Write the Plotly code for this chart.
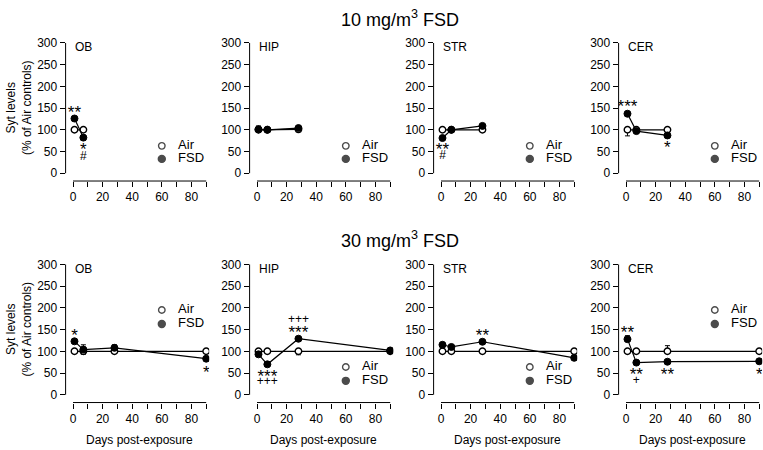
import plotly.graph_objects as go

# ---------------- data ----------------
regions = ["OB", "HIP", "STR", "CER"]
dose_titles = ["10 mg/m<sup>3</sup> FSD", "30 mg/m<sup>3</sup> FSD"]

days_10_ob = [1, 7]
days_10 = [1, 7, 28]
days_30 = [1, 7, 28, 90]

air_10_ob = [100, 100]
fsd_10_ob = [126, 82]
air_10_hip = [100, 100, 101]
fsd_10_hip = [101, 100, 104]
air_10_str = [100, 100, 100]
fsd_10_str = [81, 100, 109]
air_10_cer = [100, 100, 100]
fsd_10_cer = [137, 97, 87]

air_30_ob = [100, 100, 100, 100]
fsd_30_ob = [123, 104, 108, 83]
air_30_hip = [100, 100, 100, 100]
fsd_30_hip = [93, 70, 129, 102]
air_30_str = [100, 100, 100, 100]
fsd_30_str = [115, 110, 122, 85]
air_30_cer = [100, 100, 100, 100]
fsd_30_cer = [128, 74, 76, 77]

# SEM values
air_10_ob_sem = [3, 3]
fsd_10_ob_sem = [4, 6]
air_10_hip_sem = [3, 3, 3]
fsd_10_hip_sem = [8, 4, 4]
air_10_str_sem = [3, 3, 3]
fsd_10_str_sem = [4, 3, 4]
air_10_cer_sem = [14, 4, 3]
fsd_10_cer_sem = [5, 4, 4]

air_30_ob_sem = [3, 7, 3, 3]
fsd_30_ob_sem = [4, 11, 7, 3]
air_30_hip_sem = [3, 3, 8, 3]
fsd_30_hip_sem = [4, 4, 4, 3]
air_30_str_sem = [3, 3, 3, 3]
fsd_30_str_sem = [4, 4, 4, 3]
air_30_cer_sem = [4, 6, 13, 3]
fsd_30_cer_sem = [8, 4, 4, 3]

# significance marks (panel index 0-7, day, level, label)
sig_panel = [0, 0, 0, 2, 2, 3, 3, 4, 4, 5, 5, 5, 5, 6, 7, 7, 7, 7, 7]
sig_x = [1, 7, 7, 1, 1, 1, 28, 1, 90, 7, 7, 28, 28, 28, 1, 7, 7, 28, 90]
sig_y = [146, 60, 38, 60, 39, 159, 66, 142, 57, 49, 29, 150, 172, 143, 150, 53, 32, 53, 53]
sig_text = ["**", "*", "#", "**", "#", "***", "*", "*", "*", "***", "+++", "***", "+++",
            "**", "**", "**", "+", "**", "*"]

# legend placement (per panel)
legend_labels = ["Air", "FSD"]
legend_x = 60
legend_air_y = [63, 63, 63, 63, 195, 64, 64, 195]
legend_fsd_y = [33, 33, 33, 33, 163, 32, 32, 163]

y_tick_vals = [0, 50, 100, 150, 200, 250, 300]
x_tick_vals = [0, 10, 20, 30, 40, 50, 60, 70, 80, 90]
x_tick_text = ["0", "", "20", "", "40", "", "60", "", "80", ""]

panels = [
    (days_10_ob, air_10_ob, fsd_10_ob, air_10_ob_sem, fsd_10_ob_sem),
    (days_10, air_10_hip, fsd_10_hip, air_10_hip_sem, fsd_10_hip_sem),
    (days_10, air_10_str, fsd_10_str, air_10_str_sem, fsd_10_str_sem),
    (days_10, air_10_cer, fsd_10_cer, air_10_cer_sem, fsd_10_cer_sem),
    (days_30, air_30_ob, fsd_30_ob, air_30_ob_sem, fsd_30_ob_sem),
    (days_30, air_30_hip, fsd_30_hip, air_30_hip_sem, fsd_30_hip_sem),
    (days_30, air_30_str, fsd_30_str, air_30_str_sem, fsd_30_str_sem),
    (days_30, air_30_cer, fsd_30_cer, air_30_cer_sem, fsd_30_cer_sem),
]

# ---------------- layout geometry ----------------
W, H = 763, 450
FONT = "Liberation Sans, Arial, Helvetica, sans-serif"
x_range = [-5, 92]
y_range = [-18, 305]
px_per_x = 1.48
px_per_y = 0.439
x_zero_px = [73, 257, 441, 626]
row_bottom_px = [178, 402]
ASTERISK_DROP = 9  # asterisk glyph sits high in its text box

fig = go.Figure()
layout_axes = {}
shapes = []
annotations = []

for i, (days, air, fsd, air_sem, fsd_sem) in enumerate(panels):
    row, col = divmod(i, 4)
    xn = "" if i == 0 else str(i + 1)
    xa, ya = "x" + xn, "y" + xn
    left = x_zero_px[col] + x_range[0] * px_per_x
    right = x_zero_px[col] + x_range[1] * px_per_x
    bottom = row_bottom_px[row]
    top = bottom - (y_range[1] - y_range[0]) * px_per_y
    layout_axes["xaxis" + xn] = dict(
        domain=[left / W, min(right / W, 1.0)], range=x_range, anchor=ya,
        showline=False, showgrid=False, zeroline=False,
        tickmode="array", tickvals=x_tick_vals, ticktext=x_tick_text,
        ticks="outside", ticklen=5, tickwidth=1, tickcolor="black",
        tickfont=dict(family=FONT, size=12, color="black"),
    )
    layout_axes["yaxis" + xn] = dict(
        domain=[1 - bottom / H, 1 - top / H], range=y_range, anchor=xa,
        showline=False, showgrid=False, zeroline=False,
        tickmode="array", tickvals=y_tick_vals,
        ticks="outside", ticklen=5, tickwidth=1, tickcolor="black",
        tickfont=dict(family=FONT, size=12, color="black"),
    )
    # detached axis lines
    shapes.append(dict(type="line", xref=xa + " domain", yref=ya, x0=0, x1=0,
                       y0=y_tick_vals[0], y1=y_tick_vals[-1], line=dict(color="black", width=1)))
    shapes.append(dict(type="line", xref=xa, yref=ya + " domain", x0=x_tick_vals[0],
                       x1=x_tick_vals[-1], y0=0, y1=0, line=dict(color="black", width=1)))

    # one-sided error bars pointing away from the other group
    air_up = [s if a > f else 0 for a, f, s in zip(air, fsd, air_sem)]
    air_dn = [s if a <= f else 0 for a, f, s in zip(air, fsd, air_sem)]
    fsd_up = [s if f >= a else 0 for a, f, s in zip(air, fsd, fsd_sem)]
    fsd_dn = [s if f < a else 0 for a, f, s in zip(air, fsd, fsd_sem)]

    fig.add_trace(go.Scatter(
        x=days, y=air, xaxis=xa, yaxis=ya, mode="lines+markers", showlegend=False,
        line=dict(color="black", width=1.2),
        marker=dict(symbol="circle", size=6.5, color="white", line=dict(color="black", width=1.4)),
        error_y=dict(type="data", symmetric=False, array=air_up, arrayminus=air_dn,
                     color="black", thickness=1, width=2.5),
    ))
    fig.add_trace(go.Scatter(
        x=days, y=fsd, xaxis=xa, yaxis=ya, mode="lines+markers", showlegend=False,
        line=dict(color="black", width=1.2),
        marker=dict(symbol="circle", size=7, color="black", line=dict(color="black", width=1)),
        error_y=dict(type="data", symmetric=False, array=fsd_up, arrayminus=fsd_dn,
                     color="black", thickness=1, width=2.5),
    ))
    # legend (drawn inside panel)
    fig.add_trace(go.Scatter(
        x=[legend_x, legend_x], y=[legend_air_y[i], legend_fsd_y[i]], xaxis=xa, yaxis=ya,
        mode="markers", showlegend=False, hoverinfo="skip",
        marker=dict(symbol="circle", size=[6.5, 7], color=["white", "black"],
                    line=dict(color="black", width=1.4)),
    ))
    fig.add_trace(go.Scatter(
        x=[legend_x + 11, legend_x + 11], y=[legend_air_y[i], legend_fsd_y[i]],
        xaxis=xa, yaxis=ya, mode="text", text=legend_labels, textposition="middle right",
        textfont=dict(family=FONT, size=13, color="black"), showlegend=False, hoverinfo="skip",
    ))
    # significance marks
    sx = [x for p, x in zip(sig_panel, sig_x) if p == i]
    sy = [y - (ASTERISK_DROP if "*" in t else 0)
          for p, y, t in zip(sig_panel, sig_y, sig_text) if p == i]
    st = [t for p, t in zip(sig_panel, sig_text) if p == i]
    if sx:
        fig.add_trace(go.Scatter(
            x=sx, y=sy, xaxis=xa, yaxis=ya, mode="text", text=st, textposition="middle center",
            textfont=dict(family=FONT, size=[17 if "*" in t else 12 for t in st], color="black"),
            showlegend=False, hoverinfo="skip",
        ))
    # region label
    annotations.append(dict(xref=xa, yref=ya, x=0, y=290, text=regions[col], showarrow=False,
                            xanchor="left", yanchor="middle",
                            font=dict(family=FONT, size=12, color="black")))
    if col == 0:
        annotations.append(dict(xref="paper", yref=ya, x=19 / W, y=150,
                                text="Syt levels<br>(% of Air controls)", textangle=-90,
                                showarrow=False, xanchor="center", yanchor="middle",
                                font=dict(family=FONT, size=12, color="black")))
    if row == 1:
        annotations.append(dict(xref=xa, yref="paper", x=45, y=1 - 440 / H,
                                text="Days post-exposure", showarrow=False,
                                xanchor="center", yanchor="middle",
                                font=dict(family=FONT, size=12, color="black")))

for r, title in enumerate(dose_titles):
    annotations.append(dict(xref="paper", yref="paper", x=400 / W, y=1 - [14, 237][r] / H,
                            text=title, showarrow=False, xanchor="center", yanchor="middle",
                            font=dict(family=FONT, size=18, color="black")))

fig.update_layout(
    width=W, height=H, margin=dict(l=0, r=0, t=0, b=0),
    paper_bgcolor="white", plot_bgcolor="white",
    shapes=shapes, annotations=annotations, showlegend=False,
    **layout_axes,
)

fig.write_html("out.html", config={"displayModeBar": False},
               post_script="document.body.style.margin='0';document.body.style.padding='0';")
